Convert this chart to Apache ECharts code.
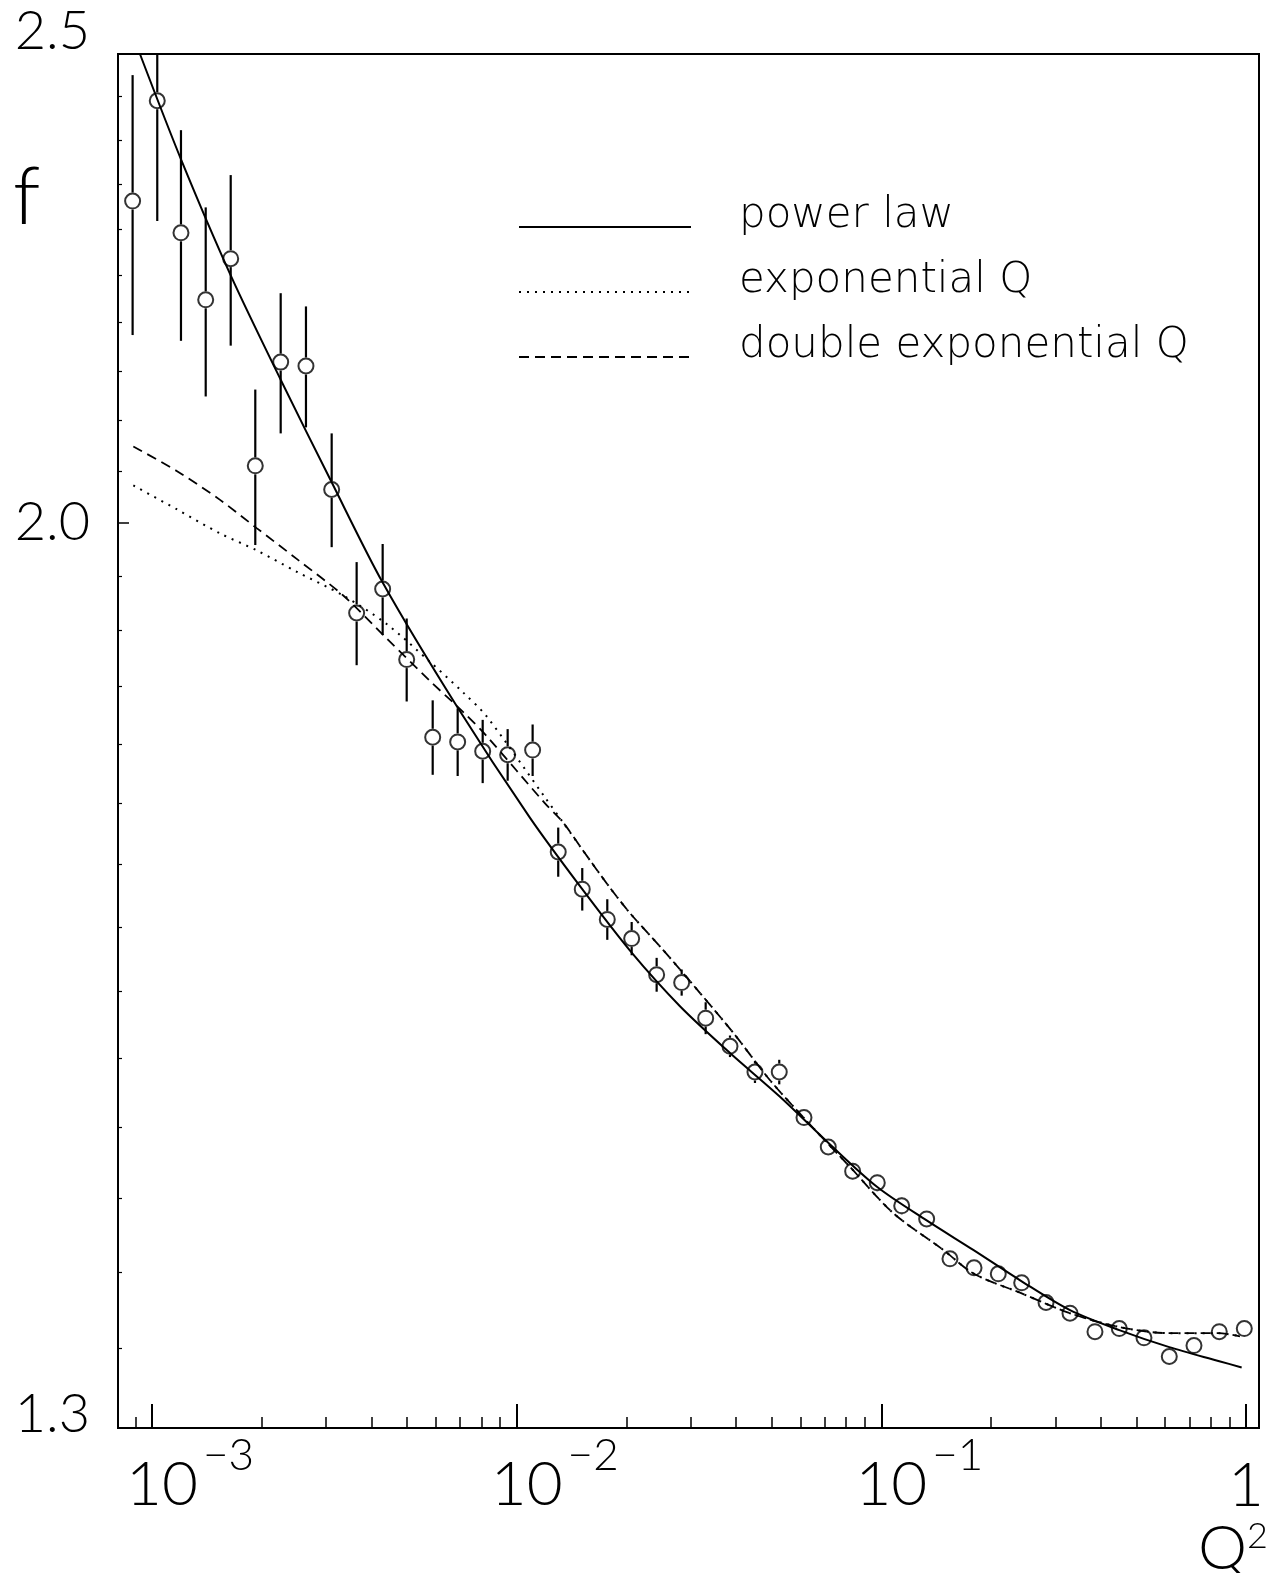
<!DOCTYPE html>
<html><head><meta charset="utf-8">
<script src="https://cdn.jsdelivr.net/npm/echarts@6/dist/echarts.min.js"></script>
<style>html,body{margin:0;padding:0;background:#fff}#c{width:1275px;height:1573px}</style>
</head><body><div id="c"></div>
<script>
// ---- data ----
const q2 = [8.85e-4, 1.034e-3, 1.201e-3, 1.404e-3, 1.644e-3, 1.920e-3, 2.254e-3, 2.644e-3, 3.110e-3, 3.641e-3,
  4.291e-3, 4.994e-3, 5.885e-3, 6.890e-3, 8.069e-3, 9.447e-3, 1.106e-2, 1.300e-2, 1.513e-2, 1.772e-2,
  2.067e-2, 2.420e-2, 2.834e-2, 3.298e-2, 3.845e-2, 4.502e-2, 5.248e-2, 6.135e-2, 7.151e-2, 8.342e-2,
  9.745e-2, 0.1137, 0.1331, 0.1542, 0.1795, 0.2092, 0.2425, 0.2828, 0.3290, 0.3852,
  0.4491, 0.5248, 0.6158, 0.7197, 0.8443, 0.9888];
const fVal = [2.331, 2.445, 2.296, 2.224, 2.268, 2.055, 2.159, 2.155, 2.032, 1.916,
  1.938, 1.874, 1.806, 1.802, 1.794, 1.791, 1.795, 1.710, 1.680, 1.656,
  1.641, 1.613, 1.607, 1.580, 1.559, 1.540, 1.540, 1.507, 1.486, 1.469,
  1.461, 1.445, 1.436, 1.409, 1.403, 1.399, 1.393, 1.380, 1.373, 1.361,
  1.363, 1.357, 1.345, 1.352, 1.361, 1.363];
const fErr = [0.144, 0.136, 0.115, 0.100, 0.092, 0.076, 0.072, 0.062, 0.055, 0.047,
  0.042, 0.037, 0.032, 0.029, 0.027, 0.022, 0.022, 0.020, 0.017, 0.016,
  0.013, 0.013, 0.010, 0.012, 0.008, 0.008, 0.009, 0.006, 0.006, 0.006,
  0.006, 0.006, 0.005, 0.004, 0.004, 0.004, 0.004, 0.004, 0.004, 0.004,
  0.004, 0.004, 0.004, 0.004, 0.004, 0.004];

const powerX = [9.27e-4, 1.206e-3, 1.644e-3, 2.254e-3, 3.110e-3, 4.291e-3, 6.847e-3, 1.088e-2, 1.513e-2, 2.067e-2,
  2.804e-2, 3.845e-2, 5.272e-2, 7.151e-2, 9.745e-2, 0.1331, 0.1786, 0.2425, 0.3290, 0.4491, 0.6158, 0.8443, 0.9725];
const powerY = [2.500, 2.376, 2.250, 2.141, 2.039, 1.944, 1.833, 1.738, 1.680, 1.630,
  1.589, 1.554, 1.522, 1.489, 1.458, 1.435, 1.415, 1.394, 1.375, 1.362, 1.351, 1.342, 1.338];

const expX = [8.89e-4, 1.169e-3, 1.537e-3, 1.937e-3, 2.494e-3, 3.346e-3, 4.400e-3, 5.784e-3, 7.126e-3, 8.274e-3,
  1.196e-2, 1.342e-2, 1.539e-2, 1.783e-2, 2.045e-2, 2.523e-2, 3.116e-2, 3.926e-2, 4.951e-2, 6.374e-2,
  8.203e-2, 0.1078, 0.1478, 0.1795, 0.2425, 0.3290, 0.4491, 0.6158, 0.8443, 0.9623];
const expY = [2.036, 2.013, 1.990, 1.974, 1.954, 1.932, 1.906, 1.872, 1.845, 1.824,
  1.755, 1.734, 1.709, 1.683, 1.661, 1.632, 1.602, 1.569, 1.534, 1.502,
  1.472, 1.440, 1.415, 1.399, 1.386, 1.373, 1.364, 1.360, 1.360, 1.358];

const dexpX = [8.89e-4, 1.169e-3, 1.537e-3, 1.937e-3, 2.494e-3, 3.346e-3, 4.400e-3, 5.784e-3, 7.126e-3, 8.274e-3,
  1.196e-2, 1.342e-2, 1.539e-2, 1.783e-2, 2.045e-2, 2.523e-2, 3.116e-2, 3.926e-2, 4.951e-2, 6.374e-2,
  8.203e-2, 0.1078, 0.1478, 0.1795, 0.2425, 0.3290, 0.4491, 0.6158, 0.8443, 0.9623];
const dexpY = [2.074, 2.050, 2.022, 1.995, 1.966, 1.932, 1.893, 1.855, 1.828, 1.807,
  1.750, 1.734, 1.709, 1.683, 1.661, 1.632, 1.602, 1.569, 1.534, 1.502,
  1.472, 1.440, 1.415, 1.399, 1.386, 1.373, 1.364, 1.360, 1.360, 1.358];

const seriesNames = ['power law', 'exponential Q', 'double exponential Q'];
const xMajorTicks = [0.001, 0.01, 0.1, 1];
const xMinorTicks = [0.0009, 0.002, 0.003, 0.004, 0.005, 0.006, 0.007, 0.008, 0.009,
  0.02, 0.03, 0.04, 0.05, 0.06, 0.07, 0.08, 0.09, 0.2, 0.3, 0.4, 0.5, 0.6, 0.7, 0.8, 0.9];
const yLabelTicks = [1.3, 2.0, 2.5];
const yMajorTicks = [2.0];
const yMinorTicks = [1.35, 1.4, 1.45, 1.5, 1.55, 1.6, 1.65, 1.7, 1.75, 1.8, 1.85, 1.9, 1.95,
  2.05, 2.1, 2.15, 2.2, 2.25, 2.3, 2.35, 2.4, 2.45];

// ---- chart ----
const FONT = 'Lato';
const W = 300;
const LFONT = 'DejaVu Sans';
const chart = echarts.init(document.getElementById('c'), null, {renderer: 'canvas'});

const pts = q2.map((x, i) => [x, fVal[i], fErr[i]]);
const zip = (a, b) => a.map((x, i) => [x, b[i]]);

const xCommon = {type: 'log', logBase: 10, min: 8.07e-4, max: 1.085, gridIndex: 0, position: 'bottom',
  splitLine: {show: false}, minorTick: {show: false}, minorSplitLine: {show: false}};
const yCommon = {type: 'log', logBase: 10, min: 1.3, max: 2.5, gridIndex: 0, position: 'left',
  splitLine: {show: false}, minorTick: {show: false}, minorSplitLine: {show: false}};

const R = 8.5;

chart.setOption({
  animation: false,
  backgroundColor: '#fff',
  grid: {left: 118, top: 54, width: 1141, height: 1374, show: true, borderColor: '#000', borderWidth: 2, containLabel: false},
  title: [
    {text: 'f', left: 13, top: 158, padding: 0, textStyle: {fontFamily: FONT, fontWeight: W, fontSize: 80, color: '#000'}},
    {text: '{q|Q}{s|2}', left: 1198, top: 1518, padding: 0, textStyle: {rich: {
      q: {fontFamily: FONT, fontWeight: W, fontSize: 62, lineHeight: 62, verticalAlign: 'bottom', color: '#000', padding: [16, 0, 0, 0]},
      s: {fontFamily: FONT, fontWeight: W, fontSize: 36, lineHeight: 36, verticalAlign: 'top', color: '#000'}
    }}}
  ],
  legend: {
    data: seriesNames, orient: 'vertical', left: 518, top: 195, padding: 0,
    itemWidth: 172, itemHeight: 14, itemGap: 23, selectedMode: false,
    itemStyle: {color: 'rgba(0,0,0,0)', borderWidth: 0, opacity: 0},
    formatter: function (name) { return '{a|' + name + '}{z| }'; },
    textStyle: {color: '#000', padding: [0, 0, 0, 43],
      rich: {
        a: {fontFamily: LFONT, fontWeight: 200, fontSize: 42, lineHeight: 38, verticalAlign: 'top', color: '#000'},
        z: {fontSize: 1, lineHeight: 64}
      }
    }
  },
  xAxis: [
    Object.assign({}, xCommon, {
      axisLine: {show: true, onZero: false, lineStyle: {color: '#000', width: 2}},
      axisTick: {show: true, inside: true, length: 24, customValues: xMajorTicks, lineStyle: {color: '#000', width: 2}},
      axisLabel: {show: true, customValues: xMajorTicks, margin: 6,
        formatter: function (v) {
          const e = Math.round(Math.log10(v));
          if (e === 0) return '{one|1}';
          return '{b|10}{e|\u2212' + (-e) + '}';
        },
        rich: {
          b: {fontFamily: FONT, fontWeight: W, fontSize: 62, lineHeight: 82, verticalAlign: 'bottom', color: '#000', padding: [0, 0, 0, 76]},
          e: {fontFamily: FONT, fontWeight: W, fontSize: 44, lineHeight: 44, verticalAlign: 'top', color: '#000', padding: [0, 0, 0, 5]},
          one: {fontFamily: FONT, fontWeight: W, fontSize: 62, lineHeight: 62, color: '#000', padding: [41, 0, 0, 0]}
        }
      }
    }),
    Object.assign({}, xCommon, {
      axisLine: {show: false, onZero: false},
      axisTick: {show: true, inside: true, length: 11, customValues: xMinorTicks, lineStyle: {color: '#000', width: 1.5}},
      axisLabel: {show: false}
    })
  ],
  yAxis: [
    Object.assign({}, yCommon, {
      axisLine: {show: true, onZero: false, lineStyle: {color: '#000', width: 2}},
      axisTick: {show: true, inside: true, length: 11, customValues: yMajorTicks, lineStyle: {color: '#000', width: 1.5}},
      axisLabel: {show: true, customValues: yLabelTicks, margin: 28,
        formatter: function (v) {
          const s = Number(v).toFixed(1);
          if (Math.abs(v - 2) < 1e-6) return '{m|' + s + '}';
          return v > 2.2 ? '{t|' + s + '}' : '{u|' + s + '}';
        },
        rich: {
          m: {fontFamily: FONT, fontWeight: W, fontSize: 54, lineHeight: 54, color: '#000'},
          t: {fontFamily: FONT, fontWeight: W, fontSize: 54, lineHeight: 54, color: '#000', padding: [0, 0, 44, 0]},
          u: {fontFamily: FONT, fontWeight: W, fontSize: 54, lineHeight: 54, color: '#000', padding: [0, 0, 26, 0]}
        }
      }
    }),
    Object.assign({}, yCommon, {
      axisLine: {show: false, onZero: false},
      axisTick: {show: true, inside: true, length: 4, customValues: yMinorTicks, lineStyle: {color: '#000', width: 1.2}},
      axisLabel: {show: false}
    })
  ],
  series: [
    {name: seriesNames[0], type: 'line', xAxisIndex: 0, yAxisIndex: 0, data: zip(powerX, powerY),
      symbol: 'none', smooth: 0.3, clip: true, color: '#000', lineStyle: {color: '#000', width: 2, type: 'solid'}, z: 2},
    {name: seriesNames[1], type: 'line', xAxisIndex: 0, yAxisIndex: 0, data: zip(expX, expY),
      symbol: 'none', smooth: 0.3, clip: true, color: '#000', lineStyle: {color: '#000', width: 2, type: [2, 6]}, z: 2},
    {name: seriesNames[2], type: 'line', xAxisIndex: 0, yAxisIndex: 0, data: zip(dexpX, dexpY),
      symbol: 'none', smooth: 0.3, clip: true, color: '#000', lineStyle: {color: '#000', width: 1.8, type: [10, 6]}, z: 2},
    {name: 'errors', type: 'custom', xAxisIndex: 0, yAxisIndex: 0, data: pts, clip: true, z: 3,
      renderItem: function (params, api) {
        const x = api.value(0), y = api.value(1), e = api.value(2);
        const c = api.coord([x, y]);
        const hi = api.coord([x, y + e]);
        const lo = api.coord([x, y - e]);
        const children = [];
        if (hi[1] < c[1] - R) children.push({type: 'line', shape: {x1: c[0], y1: hi[1], x2: c[0], y2: c[1] - R}, style: {stroke: '#000', lineWidth: 2.2}});
        if (lo[1] > c[1] + R) children.push({type: 'line', shape: {x1: c[0], y1: c[1] + R, x2: c[0], y2: lo[1]}, style: {stroke: '#000', lineWidth: 2.2}});
        return {type: 'group', children: children};
      }
    },
    {name: 'data', type: 'scatter', xAxisIndex: 0, yAxisIndex: 0, data: pts.map(p => [p[0], p[1]]),
      symbol: 'circle', symbolSize: 15, z: 4,
      itemStyle: {color: 'rgba(0,0,0,0)', borderColor: '#000', borderWidth: 2}}
  ]
});
</script>
</body></html>
